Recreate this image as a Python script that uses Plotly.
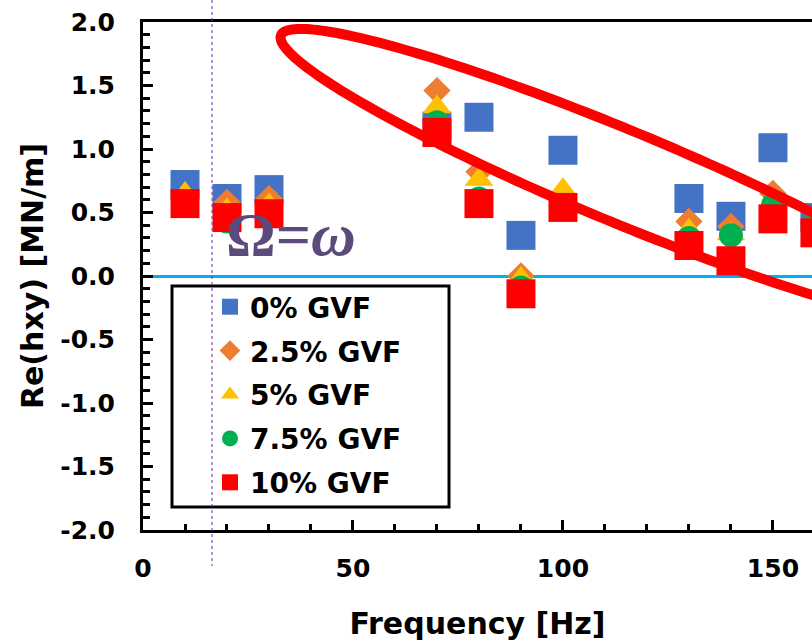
import math
import plotly.graph_objects as go

# Excitation frequencies [Hz]
freq = [10, 20, 30, 70, 80, 90, 100, 130, 140, 150, 160]

# Re(hxy) [MN/m] for each gas volume fraction
gvf_0 = [0.72, 0.61, 0.68, 1.18, 1.25, 0.32, 0.99, 0.61, 0.47, 1.01, 0.46]
gvf_25 = [0.62, 0.58, 0.61, 1.46, 0.82, 0.00, 0.60, 0.43, 0.39, 0.65, 0.40]
gvf_5 = [0.65, 0.52, 0.56, 1.33, 0.76, -0.02, 0.68, 0.36, 0.33, 0.58, 0.38]
gvf_75 = [0.56, 0.43, 0.51, 1.21, 0.61, -0.09, 0.55, 0.30, 0.32, 0.56, 0.42]
gvf_10 = [0.57, 0.46, 0.49, 1.13, 0.57, -0.14, 0.54, 0.24, 0.12, 0.45, 0.34]

series_names = ["0% GVF", "2.5% GVF", "5% GVF", "7.5% GVF", "10% GVF"]
series_values = [gvf_0, gvf_25, gvf_5, gvf_75, gvf_10]
series_colors = ["#4472C4", "#ED7D31", "#FFC000", "#00B050", "#FF0000"]
series_symbols = ["square", "diamond", "triangle-up", "circle", "square"]
series_sizes = [29, 21, 25, 24, 29]

# Axis ticks
x_tickvals = [0, 50, 100, 150]
x_ticktext = ["0", "50", "100", "150"]
y_tickvals = [-2.0, -1.5, -1.0, -0.5, 0.0, 0.5, 1.0, 1.5, 2.0]
y_ticktext = ["-2.0", "-1.5", "-1.0", "-0.5", "0.0", "0.5", "1.0", "1.5", "2.0"]

W, H = 812, 644
ML, MR, MT, MB = 143, 0, 22, 114
X_RANGE = [0, 159.3]
Y_RANGE = [-2.0, 2.0]
PW, PH = W - ML - MR, H - MT - MB

FONT = "DejaVu Sans"

fig = go.Figure()
for name, vals, col, sym, size in zip(series_names, series_values, series_colors,
                                      series_symbols, series_sizes):
    fig.add_trace(go.Scatter(
        x=freq, y=vals, mode="markers", name=name, legendgroup=name,
        marker=dict(symbol=sym, color=col, size=size, line=dict(width=0)),
    ))


def to_paper(px, py):
    return (px - ML) / PW, (H - MB - py) / PH


# Tilted ellipse highlighting the trend (pixel geometry, converted to paper units)
ell_cx, ell_cy = 621.0, 176.0
ell_a, ell_b = 368.0, 46.0
ell_theta = math.radians(22.5)
ux, uy = math.cos(ell_theta), math.sin(ell_theta)
vx, vy = -math.sin(ell_theta), math.cos(ell_theta)
pts = []
for k in range(241):
    t = 2 * math.pi * k / 240
    px = ell_cx + ell_a * math.cos(t) * ux + ell_b * math.sin(t) * vx
    py = ell_cy + ell_a * math.cos(t) * uy + ell_b * math.sin(t) * vy
    pts.append(to_paper(px, py))
path = "M " + " L ".join(f"{x:.5f},{y:.5f}" for x, y in pts) + " Z"

shapes = [
    dict(type="path", path=path, xref="paper", yref="paper",
         line=dict(color="#FF0000", width=10), fillcolor="rgba(0,0,0,0)", layer="above"),
    dict(type="line", xref="paper", yref="paper",
         x0=to_paper(212, 0)[0], x1=to_paper(212, 0)[0],
         y0=to_paper(212, 0)[1], y1=to_paper(212, 566)[1],
         line=dict(color="#7030A0", width=1, dash="dot"), layer="above"),
]

# Frame around the legend
lx0, ly0 = to_paper(172, 286)
lx1, ly1 = to_paper(449, 507)
shapes.append(dict(type="rect", xref="paper", yref="paper", x0=lx0, x1=lx1, y0=ly1, y1=ly0,
                   line=dict(color="black", width=3), fillcolor="white", layer="below"))

fig.update_layout(
    width=W, height=H,
    margin=dict(l=ML, r=MR, t=MT, b=MB),
    paper_bgcolor="white", plot_bgcolor="white",
    font=dict(family=FONT, size=25, color="black", weight="bold"),
    shapes=shapes,
    showlegend=True,
    legend=dict(
        x=to_paper(210, 0)[0], y=to_paper(0, 282)[1], xanchor="left", yanchor="top",
        bgcolor="rgba(0,0,0,0)", borderwidth=0,
        font=dict(family=FONT, size=28, color="black", weight="bold"),
        tracegroupgap=4.5, itemsizing="trace",
    ),
    annotations=[dict(
        text="Ω=<i>ω</i>", xref="paper", yref="paper",
        x=to_paper(291, 0)[0], y=to_paper(0, 234)[1], xanchor="center", yanchor="middle",
        showarrow=False,
        font=dict(family="Liberation Serif", size=62, color="#5C4A7D", weight="bold"),
    )],
)

fig.update_xaxes(
    range=X_RANGE, showgrid=False, zeroline=False,
    showline=True, linecolor="black", linewidth=3, mirror=True,
    tickmode="array", tickvals=x_tickvals, ticktext=x_ticktext,
    ticks="inside", ticklen=10, tickwidth=2.5, tickcolor="black",
    minor=dict(ticks="inside", tick0=0, dtick=10, ticklen=6, tickwidth=2.5, tickcolor="black"),
    ticklabelstandoff=14,
    tickfont=dict(family=FONT, size=25, color="black", weight="bold"),
    title=dict(text="Frequency [Hz]", standoff=31,
               font=dict(family=FONT, size=30, color="black", weight="bold")),
)
fig.update_yaxes(
    range=Y_RANGE, showgrid=False,
    zeroline=True, zerolinecolor="#00B0F0", zerolinewidth=3,
    showline=True, linecolor="black", linewidth=3, mirror=False,
    tickmode="array", tickvals=y_tickvals, ticktext=y_ticktext,
    ticks="inside", ticklen=10, tickwidth=2.5, tickcolor="black",
    minor=dict(ticks="inside", tick0=0, dtick=0.1, ticklen=7, tickwidth=2.5, tickcolor="black"),
    ticklabelstandoff=20,
    tickfont=dict(family=FONT, size=25, color="black", weight="bold"),
    title=dict(text="Re(hxy) [MN/m]", standoff=8,
               font=dict(family=FONT, size=30, color="black", weight="bold")),
)

fig.write_html("out.html")
